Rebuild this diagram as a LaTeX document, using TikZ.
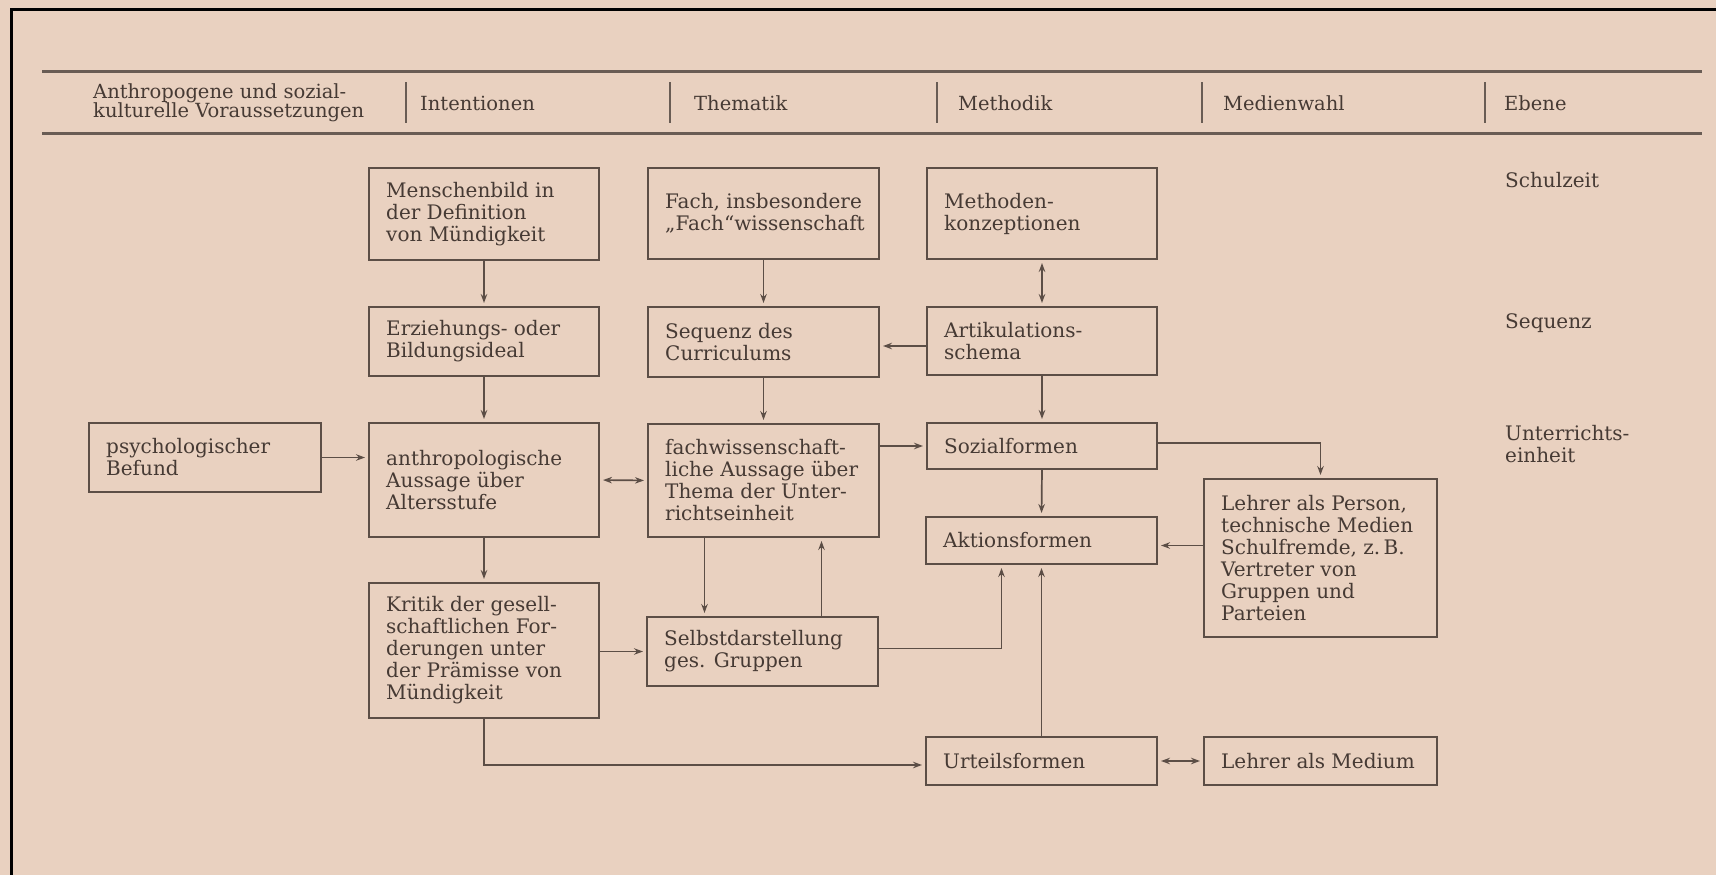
\documentclass[tikz,border=0pt]{standalone}
\usepackage{fontspec}
\setmainfont{DejaVu Serif}
\usetikzlibrary{arrows.meta,calc}
\definecolor{paper}{RGB}{233,209,192}
\definecolor{ink}{RGB}{92,78,70}
\definecolor{txt}{RGB}{70,58,52}
\definecolor{rule}{RGB}{105,92,84}
\begin{document}
\begin{tikzpicture}[x=1pt,y=-1pt,
  bx/.style={draw=ink,line width=2.5pt,inner sep=0pt,outer sep=0pt,anchor=north west},
  lbl/.style={anchor=west,xshift=17pt,inner sep=0pt,align=left,text=txt,font=\fontsize{20}{22}\selectfont},
  hd/.style={anchor=west,inner sep=0pt,align=left,text=txt,font=\fontsize{19.5}{19.5}\selectfont},
  lvl/.style={anchor=west,inner sep=0pt,align=left,text=txt,font=\fontsize{20}{22}\selectfont},
  arr/.style={draw=ink,line width=1.7pt,-{Stealth[length=9pt,width=6.5pt]},shorten >=4pt},
  darr/.style={draw=ink,line width=1.7pt,{Stealth[length=9pt,width=6.5pt]}-{Stealth[length=9pt,width=6.5pt]},shorten >=4pt,shorten <=4pt}
]
\useasboundingbox (0,0) rectangle (1716,875);
\fill[paper] (-10,-10) rectangle (1726,885);
% frame
\draw[black,line width=3.2pt] (11.5,885) -- (11.5,9.5) -- (1726,9.5);
% header
\draw[rule,line width=3pt] (42,72) -- (1702,72);
\draw[rule,line width=3pt] (42,133) -- (1702,133);
\foreach \x in {406,670,937,1202,1485} \draw[rule,line width=2.2pt] (\x,82) -- (\x,123);
\node[hd] (h1) at (93,103) {Anthropogene und sozial-\\kulturelle Voraussetzungen};
\node[hd] (h2) at (420,103) {Intentionen};
\node[hd] (h3) at (694,103) {Thematik};
\node[hd] (h4) at (958,103) {Methodik};
\node[hd] (h5) at (1223,103) {Medienwahl};
\node[hd] (h6) at (1504,103) {Ebene};
% levels
\node[lvl] (l1) at (1505,180) {Schulzeit};
\node[lvl] (l2) at (1505,323) {Sequenz};
\node[lvl] (l3) at (1505,444) {Unterrichts-\\einheit};
% boxes column Intentionen
\node[bx,minimum width=230,minimum height=92,label={[lbl]west:{Menschenbild in\\der Definition\\von Mündigkeit}}] (m1) at (369,168) {};
\node[bx,minimum width=230,minimum height=69,label={[lbl]west:{Erziehungs- oder\\Bildungsideal}}] (m2) at (369,307) {};
\node[bx,minimum width=230,minimum height=114,label={[lbl]west:{anthropologische\\Aussage über\\Altersstufe}}] (m3) at (369,423) {};
\node[bx,minimum width=232,minimum height=69,label={[lbl]west:{psychologischer\\Befund}}] (psy) at (89,423) {};
\node[bx,minimum width=230,minimum height=135,label={[lbl]west:{Kritik der gesell-\\schaftlichen For-\\derungen unter\\der Prämisse von\\Mündigkeit}}] (krit) at (369,583) {};
% column Thematik
\node[bx,minimum width=231,minimum height=91,label={[lbl]west:{Fach, insbesondere\\„Fach“wissenschaft}}] (f1) at (648,168) {};
\node[bx,minimum width=231,minimum height=70,label={[lbl]west:{Sequenz des\\Curriculums}}] (f2) at (648,307) {};
\node[bx,minimum width=231,minimum height=113,label={[lbl]west:{fachwissenschaft-\\liche Aussage über\\Thema der Unter-\\richtseinheit}}] (f3) at (648,424) {};
\node[bx,minimum width=231,minimum height=69,label={[lbl]west:{Selbstdarstellung\\ges. Gruppen}}] (selbst) at (647,617) {};
% column Methodik
\node[bx,minimum width=230,minimum height=91,label={[lbl]west:{Methoden-\\konzeptionen}}] (me1) at (927,168) {};
\node[bx,minimum width=230,minimum height=68,label={[lbl]west:{Artikulations-\\schema}}] (me2) at (927,307) {};
\node[bx,minimum width=230,minimum height=46,label={[lbl]west:{Sozialformen}}] (soz) at (927,423) {};
\node[bx,minimum width=231,minimum height=47,label={[lbl]west:{Aktionsformen}}] (akt) at (926,517) {};
\node[bx,minimum width=231,minimum height=48,label={[lbl]west:{Urteilsformen}}] (urt) at (926,737) {};
% column Medienwahl
\node[bx,minimum width=233,minimum height=158,label={[lbl]west:{Lehrer als Person,\\technische Medien\\Schulfremde, z.\,B.\\Vertreter von\\Gruppen und\\Parteien}}] (lp) at (1204,479) {};
\node[bx,minimum width=233,minimum height=48,label={[lbl]west:{Lehrer als Medium}}] (lm) at (1204,737) {};
% connectors
\draw[arr] (m1.south) -- (m2.north);
\draw[arr] (m2.south) -- (m3.north);
\draw[arr] (psy.east) -- (psy.east -| m3.west);
\draw[darr] (m3.east) -- (f3.west);
\draw[arr] (f1.south) -- (f2.north);
\draw[arr] (f2.south) -- (f3.north);
\draw[darr] (me1.south) -- (me2.north);
\draw[arr] ([yshift=-5pt]me2.west) -- ([yshift=-5pt]me2.west -| f2.east);
\draw[arr] (me2.south) -- (soz.north);
\draw[arr] (soz.west -| f3.east) -- (soz.west);
\draw[arr] (soz.south) -- (akt.north);
\draw[arr] ([yshift=3pt]soz.east) -| (lp.north);
\draw[arr] ([yshift=-5pt]akt.east -| lp.west) -- ([yshift=-5pt]akt.east);
\draw[arr] (m3.south) -- (krit.north);
\draw[arr] ([xshift=-59pt]f3.south) -- ([xshift=-59pt]f3.south |- selbst.north);
\draw[arr] ([xshift=59pt]selbst.north) -- ([xshift=59pt]selbst.north |- f3.south);
\draw[arr] (krit.east |- selbst.west) -- (selbst.west);
\draw[arr] ([yshift=3pt]selbst.east) -| ([xshift=-40pt]akt.south);
\draw[arr] (urt.north) -- (akt.south);
\draw[arr] (krit.south) |- ([yshift=-4pt]urt.west);
\draw[darr] (urt.east) -- (lm.west);
\end{tikzpicture}
\end{document}
